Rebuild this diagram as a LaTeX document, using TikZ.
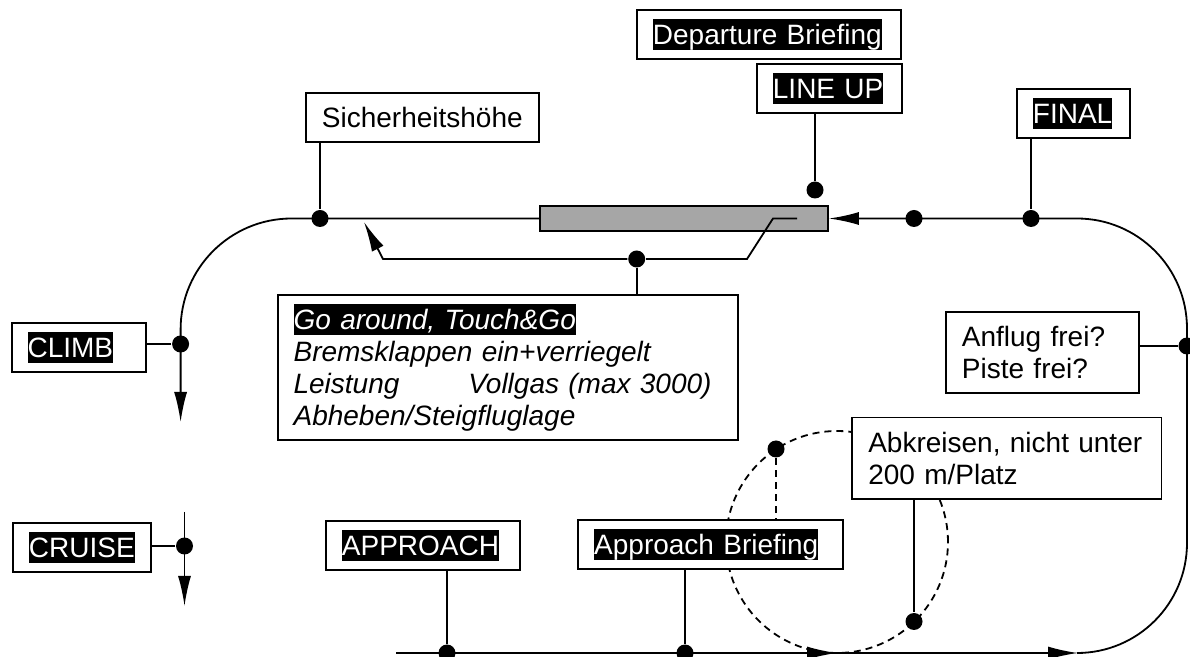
\documentclass[tikz,border=0pt]{standalone}
\usepackage{fontspec}
\setmainfont{Liberation Sans}
\usetikzlibrary{arrows.meta,positioning}
\newcommand{\tstrut}{\rule[-0.21em]{0pt}{1.12em}}
\newcommand{\inv}[1]{{\setlength{\fboxsep}{0pt}\colorbox{black}{\color{white}\tstrut #1}}}

\begin{document}
\begin{tikzpicture}[x=0.5pt, y=-0.5pt, line width=0.9pt, >={Latex[length=15pt,width=6.5pt]},
    box/.style={draw, fill=white, anchor=north west, inner xsep=8pt, inner ysep=4.5pt, align=left,
        font=\fontsize{14pt}{16pt}\selectfont},
    dot/.style={circle, fill, inner sep=0pt, minimum size=8.5pt},
    rwy/.style={draw, fill=black!35, inner sep=0pt, minimum width=144pt, minimum height=12.5pt}]
                \path[use as bounding box, fill=white] (0,0) rectangle (1190,657);
                \draw[dashed, dash pattern=on 3.5pt off 2.5pt] (837,542) circle[radius=55.5pt];
                \node[rwy] (runway) at (684,218.5) {};
                \node[box] (sicher) at (305,92) {\tstrut Sicherheitsh\"ohe};
                \node[box, text width=116pt] (depbrief) at (636,9) {\inv{Departure Briefing}};
                \node[box, text width=56.5pt] (lineup) at (756,63) {\inv{LINE UP}};
                \node[box, text width=40.5pt] (final) at (1016,88) {\inv{FINAL}};
                \node[box, text width=51pt] (climb) at (10.7,322) {\inv{CLIMB}};
                \node[box, text width=53pt] (cruise) at (12,522) {\inv{CRUISE}};
                \node[box, text width=81pt] (approach) at (325,520) {\inv{APPROACH}};
                \node[box, text width=116.5pt] (apbrief) at (577.3,519) {\inv{Approach Briefing}};
                \node[box, text width=214pt, font=\fontsize{14pt}{16pt}\selectfont\itshape] (goaround) at (276.7,294)
                    {\inv{Go around, Touch\&Go}\\ Bremsklappen ein+verriegelt\\
                     \makebox[209pt]{Leistung\hfill Vollgas (max 3000)}\\ Abheben/Steigfluglage\tstrut};
                \node[box, text width=80.5pt] (anflug) at (945,311) {\tstrut Anflug frei?\\ Piste frei?\tstrut};
                \node[box, text width=138.6pt] (abkreisen) at (851.4,416.7) {\tstrut Abkreisen, nicht unter\\ 200 m/Platz\tstrut};
                \node[dot] (sdot) at (320,218.5) {};
                \node[dot] (ldot) at (815,190) {};
                \node[dot] (tdot) at (914,218.5) {};
                \node[dot] (fdot) at (1031,218.5) {};
                \node[dot] (gdot) at (636.7,259) {};
                \node[dot] (cdot) at (180.6,344) {};
                \node[dot] (crdot) at (184.5,546) {};
                \node[dot] (adot) at (1187,346) {};
                \node[dot] (apdot) at (447,653) {};
                \node[dot] (abdot) at (685,653) {};
                \node[dot] (kdot1) at (776,449) {};
                \node[dot] (kdot2) at (914,621.5) {};
                \coordinate (bstart) at (396,653);
                \coordinate (btip1) at (837,653);
                \coordinate (btip2) at (1078,653);
                \coordinate (climbend) at (180.6,422);
                \coordinate (cruisetop) at (184.5,512);
                \coordinate (cruiseend) at (184.5,606);
                \coordinate (ga1) at (797,218.5);
                \coordinate (ga2) at (773,218.5);
                \coordinate (ga3) at (747,259);
                \coordinate (ga4) at (383,259);
                \coordinate (gatip) at (364,222);
                \draw[->, rounded corners=55.5pt] (runway.west) -- (180.6,218.5) -- (climbend);
                \draw[->] (cruisetop) -- (cruiseend);
                \draw[->] (bstart) -- (btip1);
                \draw[->] (btip1) -- (btip2);
                \draw[->, rounded corners=55pt] (btip2) -- (1187,653) -- (1187,218.5) -- (runway.east);
                \draw[->] (ga1) -- (ga2) -- (ga3) -- (gdot) -- (ga4) -- (gatip);
                \draw (sdot) -- (sdot |- sicher.south);
                \draw (ldot) -- (ldot |- lineup.south);
                \draw (fdot) -- (fdot |- final.south);
                \draw (gdot) -- (gdot |- goaround.north);
                \draw (cdot) -- (cdot -| climb.east);
                \draw (crdot) -- (crdot -| cruise.east);
                \draw (adot) -- (adot -| anflug.east);
                \draw (apdot) -- (apdot |- approach.south);
                \draw (abdot) -- (abdot |- apbrief.south);
                \draw (kdot2) -- (kdot2 |- abkreisen.south);
                \draw[dashed, dash pattern=on 3.5pt off 2.5pt] (kdot1) -- (kdot1 |- apbrief.north);
            \end{tikzpicture}
\end{document}
